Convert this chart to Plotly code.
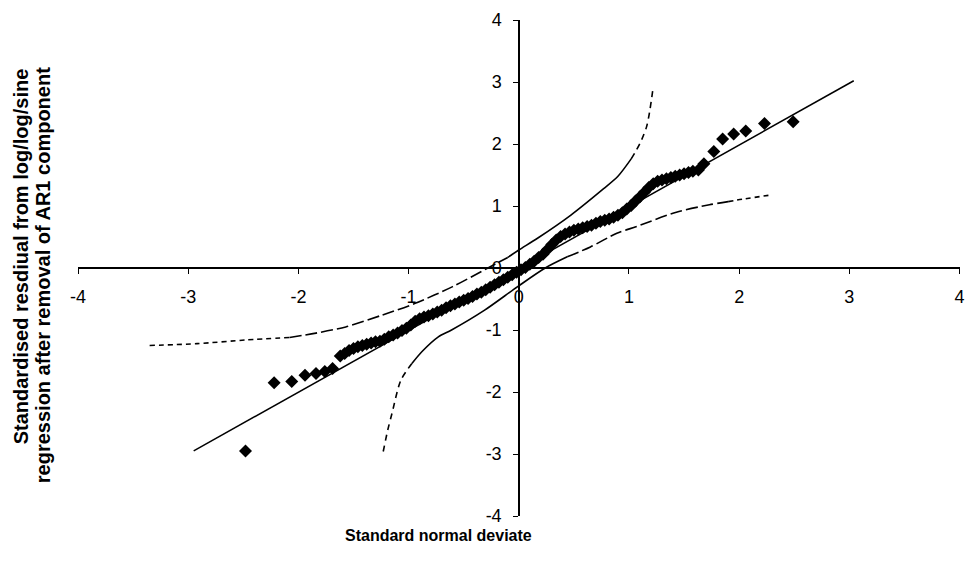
import plotly.graph_objects as go

# --- data ---
pts_x = [-2.48, -2.22, -2.06, -1.94, -1.84, -1.76, -1.69,
         -1.62, -1.58, -1.54, -1.50, -1.46, -1.42, -1.38, -1.34, -1.30, -1.26,
         -1.22, -1.18, -1.14, -1.10, -1.06, -1.02, -0.98, -0.94, -0.90, -0.86,
         -0.82, -0.78, -0.74, -0.70, -0.66, -0.62, -0.58, -0.54, -0.50, -0.46,
         -0.42, -0.38, -0.34, -0.30, -0.26, -0.22, -0.18, -0.14, -0.10, -0.06,
         -0.02, 0.02, 0.06, 0.10, 0.14, 0.18, 0.22, 0.26, 0.30, 0.34,
         0.38, 0.42, 0.46, 0.50, 0.54, 0.58, 0.62, 0.66, 0.70, 0.74,
         0.78, 0.82, 0.86, 0.90, 0.94, 0.98, 1.02, 1.06, 1.10, 1.14,
         1.18, 1.22, 1.26, 1.30, 1.34, 1.38, 1.42, 1.46, 1.50, 1.54,
         1.58, 1.63,
         1.68, 1.77, 1.85, 1.95, 2.06, 2.23, 2.49]
pts_y = [-2.95, -1.85, -1.83, -1.73, -1.70, -1.67, -1.62,
         -1.42, -1.38, -1.33, -1.30, -1.27, -1.25, -1.23, -1.21, -1.19, -1.18,
         -1.15, -1.11, -1.08, -1.05, -1.01, -0.97, -0.92, -0.86, -0.82, -0.79,
         -0.77, -0.74, -0.71, -0.68, -0.64, -0.61, -0.58, -0.55, -0.52, -0.49,
         -0.46, -0.42, -0.39, -0.35, -0.31, -0.27, -0.23, -0.19, -0.15, -0.11,
         -0.07, -0.03, 0.01, 0.06, 0.11, 0.17, 0.22, 0.30, 0.38, 0.45,
         0.51, 0.55, 0.58, 0.61, 0.63, 0.65, 0.67, 0.69, 0.72, 0.75,
         0.77, 0.79, 0.82, 0.85, 0.89, 0.95, 1.01, 1.08, 1.15, 1.22,
         1.30, 1.36, 1.40, 1.42, 1.44, 1.46, 1.48, 1.50, 1.52, 1.54,
         1.56, 1.58,
         1.68, 1.88, 2.08, 2.16, 2.21, 2.33, 2.36]

fit_x = [-2.95, 3.04]
fit_y = [-2.95, 3.02]

# upper confidence band, by line style
up_short_x = [-3.35, -2.92, -2.47, -2.08]
up_short_y = [-1.25, -1.22, -1.16, -1.12]
up_long_x = [-2.08, -1.84, -1.57, -1.24, -0.94, -0.60, -0.28, -0.10]
up_long_y = [-1.12, -1.05, -0.95, -0.76, -0.57, -0.30, 0.00, 0.17]
up_solid_x = [-0.10, 0.00, 0.17, 0.47, 0.77, 0.90, 1.02]
up_solid_y = [0.17, 0.29, 0.48, 0.85, 1.28, 1.48, 1.76]
up_dash_x = [1.02, 1.10, 1.16, 1.19, 1.22]
up_dash_y = [1.76, 2.01, 2.28, 2.55, 2.92]

# lower confidence band, by line style
lo_dash_x = [-1.23, -1.19, -1.15, -1.07, -0.97]
lo_dash_y = [-2.96, -2.62, -2.34, -1.81, -1.54]
lo_solid_x = [-0.97, -0.88, -0.73, -0.61, -0.31, -0.01, 0.24, 0.44]
lo_solid_y = [-1.54, -1.35, -1.11, -1.00, -0.68, -0.30, 0.00, 0.18]
lo_long_x = [0.44, 0.65, 0.89, 1.07, 1.43, 1.73, 1.90]
lo_long_y = [0.18, 0.34, 0.56, 0.67, 0.90, 1.02, 1.07]
lo_short_x = [1.90, 2.03, 2.30]
lo_short_y = [1.07, 1.11, 1.18]

tick_vals = [-4, -3, -2, -1, 0, 1, 2, 3, 4]
tick_text = ["-4", "-3", "-2", "-1", "0", "1", "2", "3", "4"]

x_title = "Standard normal deviate"
y_title_1 = "Standardised resdiual from log/log/sine"
y_title_2 = "regression after removal of AR1 component"

FONT = "Liberation Sans, Arial, sans-serif"

fig = go.Figure()

fig.add_trace(go.Scatter(x=fit_x, y=fit_y, mode="lines",
                         line=dict(color="black", width=1.5), hoverinfo="skip"))

segs = [
    (up_short_x, up_short_y, "5px,4px"),
    (up_long_x, up_long_y, "12px,4px"),
    (up_solid_x, up_solid_y, "solid"),
    (up_dash_x, up_dash_y, "6px,5px"),
    (lo_dash_x, lo_dash_y, "6px,5px"),
    (lo_solid_x, lo_solid_y, "solid"),
    (lo_long_x, lo_long_y, "12px,4px"),
    (lo_short_x, lo_short_y, "5px,4px"),
]
for sx, sy, dash in segs:
    fig.add_trace(go.Scatter(x=sx, y=sy, mode="lines",
                             line=dict(color="black", width=1.6, dash=dash, shape="spline", smoothing=0.8),
                             hoverinfo="skip"))

fig.add_trace(go.Scatter(x=pts_x, y=pts_y, mode="markers",
                         marker=dict(symbol="diamond", size=10, color="black",
                                     line=dict(width=0))))

axis_common = dict(showgrid=False, zeroline=False, showline=True,
                   linecolor="black", linewidth=1.5, ticks="outside", ticklen=5,
                   tickwidth=1, tickcolor="black", tickvals=tick_vals, ticktext=tick_text,
                   tickfont=dict(family=FONT, size=18, color="black"))

fig.update_layout(
    width=968, height=563,
    margin=dict(l=78, r=3, t=20, b=47),
    paper_bgcolor="white", plot_bgcolor="white",
    showlegend=False,
    xaxis=dict(**axis_common, range=[-4, 4.004], anchor="free", position=0.5,
               ticklabelstandoff=8, ticklabeloverflow="allow"),
    yaxis=dict(**axis_common, range=[-4, 4], anchor="free", position=0.5,
               ticklabelstandoff=8),
    annotations=[
        dict(text="<b>" + x_title + "</b>", xref="paper", yref="paper",
             x=(441 - 78) / 887, y=-(535 - 516) / 496, xanchor="center", yanchor="middle",
             showarrow=False, font=dict(family=FONT, size=16, color="black")),
        dict(text="<b>" + y_title_1 + "</b>", xref="paper", yref="paper",
             x=-(78 - 21) / 887, y=(516 - 256) / 496, xanchor="center", yanchor="middle",
             textangle=-90, showarrow=False,
             font=dict(family=FONT, size=20, color="black")),
        dict(text="<b>" + y_title_2 + "</b>", xref="paper", yref="paper",
             x=-(78 - 43) / 887, y=(516 - 275) / 496, xanchor="center", yanchor="middle",
             textangle=-90, showarrow=False,
             font=dict(family=FONT, size=20, color="black")),
    ],
)

fig.write_html("out.html", config={"displayModeBar": False},
               post_script="document.body.style.margin='0';document.body.style.padding='0';")
